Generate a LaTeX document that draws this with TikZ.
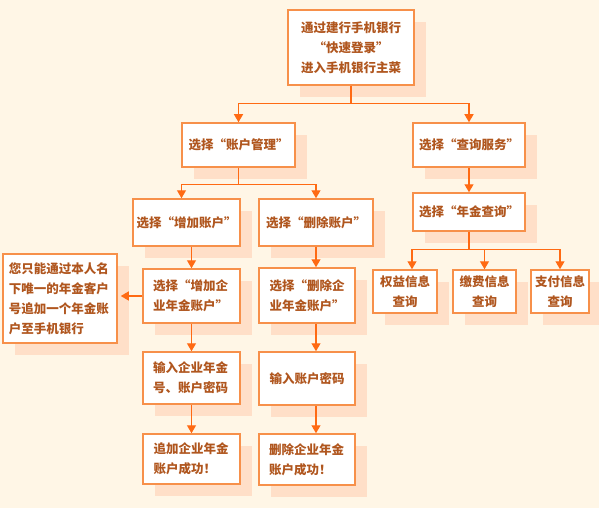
\documentclass[tikz,border=0pt]{standalone}
\usepackage{fontspec}
\newfontfamily\cjk{Noto Sans CJK SC}
\usetikzlibrary{arrows.meta,shadows}
\definecolor{bgc}{HTML}{FFF6E6}
\definecolor{shade}{HTML}{FFDFC8}
\definecolor{edge}{HTML}{F7904A}
\definecolor{wire}{HTML}{FF6A13}
\definecolor{ink}{HTML}{B0561E}
\begin{document}
\begin{tikzpicture}
[x=1pt,y=-1pt,%
  blk/.style={draw=edge,fill=white,line width=1.5pt,text=ink,inner sep=0pt,%
    align=center,font=\cjk\bfseries\fontsize{12.5}{20}\selectfont,%
    drop shadow={shadow xshift=12pt,shadow yshift=-12pt,fill=shade,opacity=1}},%
  lft/.style={align=left,text width=#1},%
  wire/.style={draw=wire,line width=1.3pt},%
  arr/.style={wire,-{Triangle[width=9pt,length=8pt]}}]
\fill[bgc] (0,0) rectangle (599,508);
\useasboundingbox (0,0) rectangle (599,508);
\node[blk,minimum width=126,minimum height=75] (login) at (351,47.5)
  {通过建行手机银行\\“快速登录”\\进入手机银行主菜};
\node[blk,minimum width=113,minimum height=44] (acct) at (238.5,145) {选择“账户管理”};
\node[blk,minimum width=112,minimum height=44] (query) at (469,145) {选择“查询服务”};
\node[blk,minimum width=112,minimum height=38] (annq) at (469,212) {选择“年金查询”};
\node[blk,minimum width=107,minimum height=47] (add) at (186.5,222.5) {选择“增加账户”};
\node[blk,minimum width=114,minimum height=47] (del) at (316,222.5) {选择“删除账户”};
\node[blk,lft=77,minimum width=97,minimum height=54] (addent) at (191.5,296)
  {选择“增加企\\业年金账户”};
\node[blk,lft=75,minimum width=96,minimum height=55] (delent) at (307,295.5)
  {选择“删除企\\业年金账户”};
\node[blk,lft=102,minimum width=114,minimum height=89] (note) at (60,298.5)
  {您只能通过本人名\\下唯一的年金客户\\号追加一个年金账\\户至手机银行};
\node[blk,lft=77,minimum width=97,minimum height=52] (inno) at (191.5,378)
  {输入企业年金\\号、账户密码};
\node[blk,minimum width=96,minimum height=53] (inpw) at (307,378.5) {输入账户密码};
\node[blk,lft=76,minimum width=97,minimum height=50] (addok) at (191.5,459)
  {追加企业年金\\账户成功！};
\node[blk,lft=76,minimum width=96,minimum height=51] (delok) at (307,459.5)
  {删除企业年金\\账户成功！};
\node[blk,minimum width=64,minimum height=43] (gain) at (405,291.5) {权益信息\\查询};
\node[blk,minimum width=63,minimum height=43] (fee) at (484.5,291.5) {缴费信息\\查询};
\node[blk,minimum width=58,minimum height=43] (pay) at (560,291.5) {支付信息\\查询};
\draw[arr] (login.south) -- ++(0,18) -| (acct.north);
\draw[arr] (login.south) -- ++(0,18) -| (query.north);
\draw[arr] (query) -- (annq);
\draw[arr] (acct.south) -- ++(0,17) -| ([xshift=-5pt]add.north);
\draw[arr] (acct.south) -- ++(0,17) -| (del.north);
\draw[arr] (addent.north |- add.south) -- (addent.north);
\draw[arr] (del.south) -- (del.south |- delent.north);
\draw[arr,shorten >=3pt] (addent.west) -- (addent.west -| note.east);
\draw[arr] (addent) -- (inno);
\draw[arr] (del.south |- delent.south) -- (del.south |- inpw.north);
\draw[arr] (inno) -- (addok);
\draw[arr] (del.south |- inpw.south) -- (del.south |- delok.north);
\draw[arr] (annq.south) -- ++(0,18) -| ([xshift=7pt]gain.north);
\draw[arr] (annq.south) -- ++(0,18) -| (fee.north);
\draw[arr] (annq.south) -- ++(0,18) -| (pay.north);
\end{tikzpicture}
\end{document}
